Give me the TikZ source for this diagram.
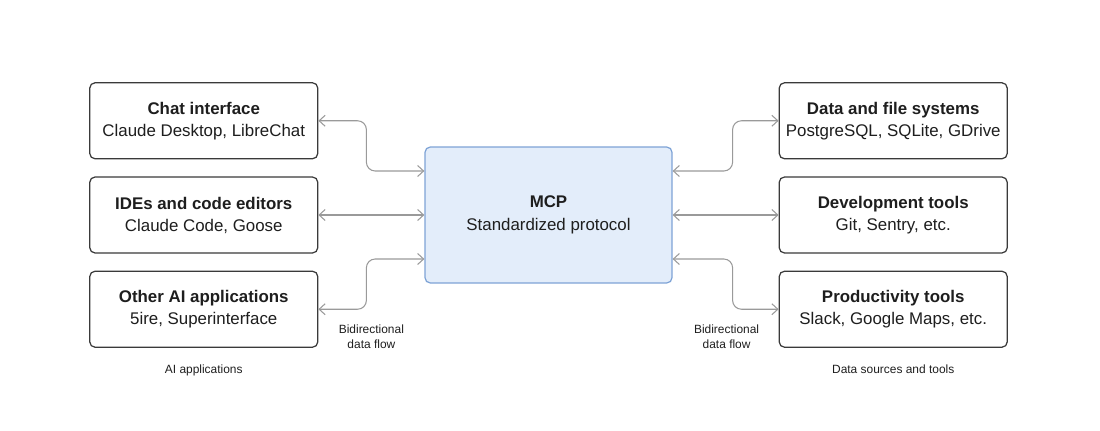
\documentclass[tikz,border=0pt]{standalone}
\usepackage{xcolor}
\usepackage{fontspec}
\setmainfont{Liberation Sans}
\usepackage{tikz}
\usetikzlibrary{arrows.meta, positioning, calc}
\definecolor{boxline}{HTML}{3A3A3A}
\definecolor{mcpfill}{HTML}{E3EDFA}
\definecolor{mcpline}{HTML}{7EA3D6}
\definecolor{connline}{HTML}{9A9A9A}
\definecolor{txtgray}{HTML}{1E1E1E}
\tikzset{
  appbox/.style={rectangle, draw=boxline, line width=0.7pt, fill=white,
                 minimum width=4.56cm, minimum height=1.52cm,
                 align=center, rounded corners=3pt, font=\fontsize{9.6}{12.5}\selectfont,
                 text=txtgray},
  mcpbox/.style={rectangle, draw=mcpline, line width=0.7pt, fill=mcpfill,
                 minimum width=4.94cm, minimum height=2.72cm, align=center,
                 rounded corners=3pt, font=\fontsize{9.6}{13}\selectfont, text=txtgray},
  smalllbl/.style={align=center, font=\fontsize{6.8}{8}\selectfont, text=txtgray},
  conn/.style={{Straight Barb[length=1.2mm, width=2.2mm]}-{Straight Barb[length=1.2mm, width=2.2mm]},
               draw=connline, line width=0.6pt, rounded corners=5pt},
}

\begin{document}
\begin{tikzpicture}
  \useasboundingbox (-10.97,-4.3) rectangle (11.03,4.3);

  % Nodes
  \node [mcpbox] (mcp) {\textbf{MCP}\\Standardized protocol};

  % AI applications
  \node [appbox, left=2.12cm of mcp] (ide)
    {\textbf{IDEs and code editors}\\Claude Code, Goose};
  \node [appbox, above=0.34cm of ide] (chat)
    {\textbf{Chat interface}\\Claude Desktop, LibreChat};
  \node [appbox, below=0.34cm of ide] (other)
    {\textbf{Other AI applications}\\5ire, Superinterface};

  % Data sources and tools
  \node [appbox, right=2.12cm of mcp] (devtools)
    {\textbf{Development tools}\\Git, Sentry, etc.};
  \node [appbox, above=0.34cm of devtools] (datafs)
    {\textbf{Data and file systems}\\PostgreSQL, SQLite, GDrive};
  \node [appbox, below=0.34cm of devtools] (prodtools)
    {\textbf{Productivity tools}\\Slack, Google Maps, etc.};

  % Labels
  \node [smalllbl, below=0.22cm of other] (applbl) {AI applications};
  \node [smalllbl, below=0.22cm of prodtools] (srclbl) {Data sources and tools};
  \node [smalllbl] (lflow) at ($(other.east)+(1.06,-0.55)$) {Bidirectional\\data flow};
  \node [smalllbl] (rflow) at ($(prodtools.west)+(-1.04,-0.55)$) {Bidirectional\\data flow};

  % Edges
  \draw [conn] (chat.east) -- ++(0.96,0) |- ([yshift=0.88cm]mcp.west);
  \draw [conn] (ide.east) -- (mcp.west);
  \draw [conn] (other.east) -- ++(0.96,0) |- ([yshift=-0.88cm]mcp.west);

  \draw [conn] ([yshift=0.88cm]mcp.east) -- ++(1.2,0) |- (datafs.west);
  \draw [conn] (mcp.east) -- (devtools.west);
  \draw [conn] ([yshift=-0.88cm]mcp.east) -- ++(1.2,0) |- (prodtools.west);
\end{tikzpicture}
\end{document}
